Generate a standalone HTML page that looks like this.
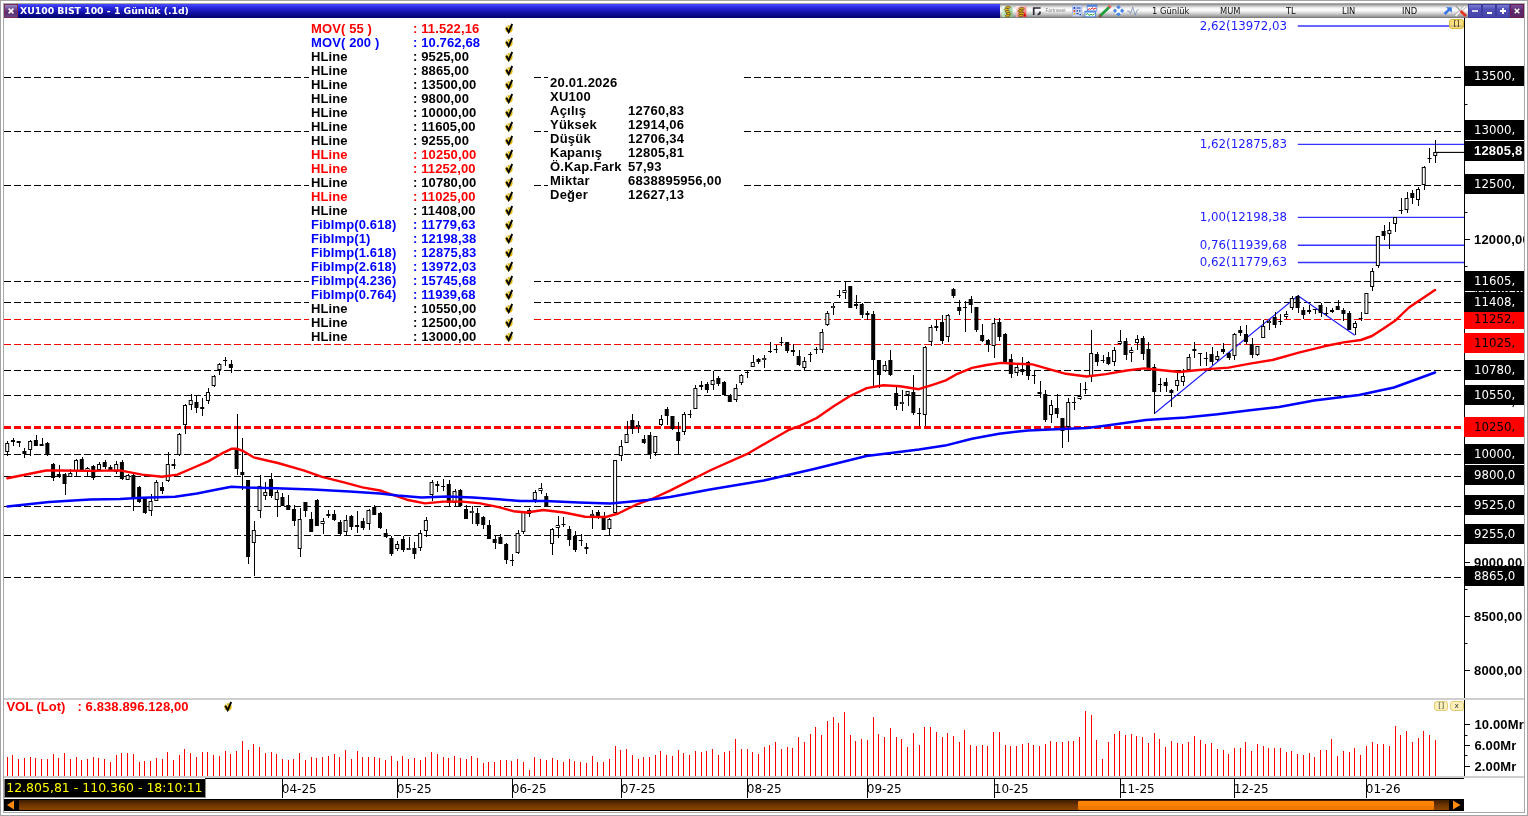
<!DOCTYPE html>
<html lang="tr">
<head>
<meta charset="utf-8">
<title>XU100 BIST 100 - 1 Günlük</title>
<style>
html,body{margin:0;padding:0;background:#fff;}
body{width:1528px;height:816px;position:relative;overflow:hidden;font-family:"Liberation Sans",sans-serif;}
.abs{position:absolute;}
#outer{position:absolute;left:0;top:0;width:1526px;height:814px;border:1px solid #a4a4a4;}
#inner{position:absolute;left:3px;top:3px;width:1520px;height:808px;border:1px solid #a8a8a8;box-sizing:content-box;}
/* title bar */
#tbar{position:absolute;left:4px;top:4px;width:1520px;height:14px;background:linear-gradient(#4a4aff 0%,#2a2ae0 25%,#1414b0 55%,#00006a 100%);}
#tclose{position:absolute;left:4px;top:4px;width:12px;height:12px;border:1px solid #7a2c55;background:linear-gradient(#9088c8 0%,#6a3a80 45%,#5c2c6c 60%,#644488 100%);}
#ttext{position:absolute;left:20px;top:4px;height:14px;line-height:14px;color:#fff;font-family:"DejaVu Sans",sans-serif;font-weight:bold;font-size:9.3px;white-space:nowrap;transform-origin:0 50%;}
#tool{position:absolute;left:1000px;top:4px;width:468px;height:14px;background:linear-gradient(#858585 0%,#b4b4b4 10%,#f2f2f2 28%,#ffffff 42%,#e6e6e6 58%,#b8b8b8 78%,#909090 92%,#707070 100%);}
.tt{position:absolute;top:4px;height:14px;line-height:14px;font-family:"DejaVu Sans",sans-serif;font-size:8.35px;color:#111;white-space:nowrap;}
.wb{position:absolute;top:4px;height:12px;width:12px;border:1px solid #3c3ca0;background:linear-gradient(#7c7cd0 0%,#5050b8 35%,#4444a8 100%);}
.wb.x{border-color:#6a1c50;background:linear-gradient(#7a4c98 0%,#5c2468 50%,#582868 100%);}
/* chart */
svg{position:absolute;left:0;top:0;}
#legend{position:absolute;left:309px;top:22px;width:225px;height:322px;background:#fff;}
.lr{position:absolute;left:0;height:14px;line-height:14px;font-weight:bold;font-size:13px;letter-spacing:0.12px;white-space:nowrap;width:226px;}
.lr .l1{position:absolute;left:2px;}
.lr .l2{position:absolute;left:104px;}
.ck{position:absolute;left:194.5px;top:0;width:10px;height:12px;}
.r{color:#ff0000;}.b{color:#0000ff;}.k{color:#000;}
#info{position:absolute;left:548px;top:76px;width:196px;height:128px;background:#fff;}
.ir{position:absolute;left:0;height:14px;line-height:14px;font-weight:bold;font-size:13px;letter-spacing:0.25px;white-space:nowrap;color:#000;}
.ir .i1{position:absolute;left:2px;}
.ir .i2{position:absolute;left:80px;}
.fib{position:absolute;left:1199.8px;height:14px;line-height:14px;font-family:"DejaVu Sans",sans-serif;font-size:11.8px;color:#1c1cff;white-space:nowrap;}
/* axis */
#paxis{position:absolute;left:1464px;top:0px;width:60px;height:812px;overflow:hidden;}
.pt{position:absolute;left:10px;height:16px;line-height:16px;font-weight:bold;font-size:13px;letter-spacing:0.2px;color:#000;white-space:nowrap;}
.pb{position:absolute;left:0;width:60px;height:20px;line-height:21.2px;font-family:"DejaVu Sans",sans-serif;font-size:11.75px;white-space:nowrap;text-indent:10px;}
.pb.k{background:#000;color:#fff;}
.pb.rd{background:#ff0000;color:#000;}
.pb.cur{font-family:"Liberation Sans",sans-serif;font-weight:bold;font-size:13px;letter-spacing:0.2px;height:20px;line-height:20px;text-indent:10px;}
.vt{position:absolute;left:1474.4px;height:16px;line-height:16px;font-weight:bold;font-size:13px;letter-spacing:0.15px;color:#000;white-space:nowrap;}
/* separators */
.hsep{position:absolute;left:4px;width:1520px;background:#cfcfcf;}
/* vol label */
#vlab{position:absolute;left:6.4px;top:699px;height:15px;line-height:15px;font-weight:bold;font-size:13px;color:#ff0000;white-space:nowrap;}
.yb{position:absolute;top:701px;height:10px;width:14.4px;border-radius:3px;background:#fdf0b8;border:1px solid #e2ca74;box-sizing:border-box;font-family:"DejaVu Sans",sans-serif;font-size:7.5px;line-height:8.6px;text-align:center;color:#444;}
/* time axis */
#status{position:absolute;left:4px;top:779px;width:201.6px;height:19px;background:#000;border-left:1px solid #808080;border-right:1px solid #909090;border-bottom:1px solid #909090;box-sizing:border-box;color:#ffff00;font-family:"DejaVu Sans",sans-serif;font-size:12.5px;line-height:17px;white-space:nowrap;text-indent:1.2px;}
.tk{position:absolute;top:778px;width:1px;height:20px;background:#000;}
.tm{position:absolute;top:781px;height:16px;line-height:16px;font-family:"DejaVu Sans",sans-serif;font-size:12px;color:#000;white-space:nowrap;}
#sbar{position:absolute;left:4px;top:799px;width:1460px;height:12px;background:#000;}
#strack{position:absolute;left:15px;top:1px;width:1430px;height:10px;background:linear-gradient(#3c1c00 0%,#6a3200 45%,#8a4600 100%);}
#sthumb{position:absolute;left:1073.8px;top:2px;width:356px;height:8.6px;border-radius:1px;background:linear-gradient(#ff8408 0%,#ff8000 55%,#ee7800 56%,#ee7800 100%);}
</style>
</head>
<body>
<div id="outer"></div>
<div id="inner"></div>

<svg width="1528" height="816" viewBox="0 0 1528 816">
<defs><g id="chk"><circle r="3.7" fill="#e4bc18"/><path d="M-2.2 -3.2L-0.6 -1.2" stroke="#fff" stroke-width="1.2" opacity="0.8"/><path d="M-2.7 -1.3L-0.3 3.1L3.2 -5" stroke="#000" stroke-width="1.9" fill="none"/></g></defs>
<g shape-rendering="auto">
<line x1="4" x2="1464" y1="77.5" y2="77.5" stroke="#000" stroke-width="1" stroke-dasharray="7 3"/>
<line x1="4" x2="1464" y1="131.5" y2="131.5" stroke="#000" stroke-width="1" stroke-dasharray="7 3"/>
<line x1="4" x2="1464" y1="185.5" y2="185.5" stroke="#000" stroke-width="1" stroke-dasharray="7 3"/>
<line x1="4" x2="1464" y1="281.5" y2="281.5" stroke="#000" stroke-width="1" stroke-dasharray="7 3"/>
<line x1="4" x2="1464" y1="302.5" y2="302.5" stroke="#000" stroke-width="1" stroke-dasharray="7 3"/>
<line x1="4" x2="1464" y1="370.5" y2="370.5" stroke="#000" stroke-width="1" stroke-dasharray="7 3"/>
<line x1="4" x2="1464" y1="395.5" y2="395.5" stroke="#000" stroke-width="1" stroke-dasharray="7 3"/>
<line x1="4" x2="1464" y1="454.5" y2="454.5" stroke="#000" stroke-width="1" stroke-dasharray="7 3"/>
<line x1="4" x2="1464" y1="476.5" y2="476.5" stroke="#000" stroke-width="1" stroke-dasharray="7 3"/>
<line x1="4" x2="1464" y1="506.5" y2="506.5" stroke="#000" stroke-width="1" stroke-dasharray="7 3"/>
<line x1="4" x2="1464" y1="535.5" y2="535.5" stroke="#000" stroke-width="1" stroke-dasharray="7 3"/>
<line x1="4" x2="1464" y1="577.5" y2="577.5" stroke="#000" stroke-width="1" stroke-dasharray="7 3"/>
<line x1="4" x2="1464" y1="319.5" y2="319.5" stroke="#f00" stroke-width="1" stroke-dasharray="7 3"/>
<line x1="4" x2="1464" y1="344.5" y2="344.5" stroke="#f00" stroke-width="1" stroke-dasharray="7 3"/>
<line x1="4" x2="1464" y1="427.5" y2="427.5" stroke="#f00" stroke-width="3" stroke-dasharray="7 3"/>
<line x1="1297.8" x2="1464" y1="26.0" y2="26.0" stroke="#3434ff" stroke-width="1.35"/>
<line x1="1297.8" x2="1464" y1="144.3" y2="144.3" stroke="#3434ff" stroke-width="1.35"/>
<line x1="1297.8" x2="1464" y1="217.3" y2="217.3" stroke="#3434ff" stroke-width="1.35"/>
<line x1="1297.8" x2="1464" y1="245.2" y2="245.2" stroke="#3434ff" stroke-width="1.35"/>
<line x1="1297.8" x2="1464" y1="262.5" y2="262.5" stroke="#3434ff" stroke-width="1.35"/>
<polyline points="1154.4,413.5 1298,295.7 1354.8,335.2" fill="none" stroke="#1c1cff" stroke-width="1.1"/>
<rect x="7" y="441" width="1" height="15" fill="#000"/>
<rect x="5.70" y="443.5" width="3" height="8" fill="#fff" stroke="#000" stroke-width="1"/>
<rect x="13" y="438" width="1" height="8" fill="#000"/>
<rect x="10.94" y="440" width="4" height="2" fill="#000"/>
<rect x="19" y="441" width="1" height="6" fill="#000"/>
<rect x="16.67" y="441" width="4" height="2" fill="#000"/>
<rect x="24" y="448" width="1" height="10" fill="#000"/>
<rect x="22.41" y="451" width="4" height="3" fill="#000"/>
<rect x="30" y="440" width="1" height="16" fill="#000"/>
<rect x="28.64" y="441.5" width="3" height="8" fill="#fff" stroke="#000" stroke-width="1"/>
<rect x="36" y="435" width="1" height="11" fill="#000"/>
<rect x="33.88" y="440" width="4" height="6" fill="#000"/>
<rect x="42" y="438" width="1" height="8" fill="#000"/>
<rect x="39.61" y="444" width="4" height="2" fill="#000"/>
<rect x="47" y="442" width="1" height="14" fill="#000"/>
<rect x="45.35" y="443" width="4" height="11" fill="#000"/>
<rect x="53" y="463" width="1" height="18" fill="#000"/>
<rect x="51.08" y="464" width="4" height="14" fill="#000"/>
<rect x="59" y="465" width="1" height="13" fill="#000"/>
<rect x="56.82" y="474" width="4" height="2" fill="#000"/>
<rect x="65" y="473" width="1" height="22" fill="#000"/>
<rect x="62.55" y="474" width="4" height="10" fill="#000"/>
<rect x="70" y="469" width="1" height="8" fill="#000"/>
<rect x="68.78" y="473.5" width="3" height="3" fill="#fff" stroke="#000" stroke-width="1"/>
<rect x="76" y="459" width="1" height="17" fill="#000"/>
<rect x="74.52" y="460.5" width="3" height="10" fill="#fff" stroke="#000" stroke-width="1"/>
<rect x="82" y="457" width="1" height="14" fill="#000"/>
<rect x="79.76" y="459" width="4" height="12" fill="#000"/>
<rect x="87" y="467" width="1" height="9" fill="#000"/>
<rect x="85.99" y="468.5" width="3" height="2" fill="#fff" stroke="#000" stroke-width="1"/>
<rect x="93" y="465" width="1" height="15" fill="#000"/>
<rect x="91.23" y="466" width="4" height="12" fill="#000"/>
<rect x="99" y="462" width="1" height="8" fill="#000"/>
<rect x="97.46" y="464.5" width="3" height="5" fill="#fff" stroke="#000" stroke-width="1"/>
<rect x="105" y="460" width="1" height="9" fill="#000"/>
<rect x="102.70" y="462" width="4" height="5" fill="#000"/>
<rect x="110" y="465" width="1" height="6" fill="#000"/>
<rect x="108.43" y="467" width="4" height="4" fill="#000"/>
<rect x="116" y="461" width="1" height="13" fill="#000"/>
<rect x="114.67" y="464.5" width="3" height="7" fill="#fff" stroke="#000" stroke-width="1"/>
<rect x="122" y="460" width="1" height="20" fill="#000"/>
<rect x="119.90" y="462" width="4" height="17" fill="#000"/>
<rect x="128" y="474" width="1" height="6" fill="#000"/>
<rect x="126.14" y="475.5" width="3" height="4" fill="#fff" stroke="#000" stroke-width="1"/>
<rect x="133" y="474" width="1" height="37" fill="#000"/>
<rect x="131.37" y="475" width="4" height="23" fill="#000"/>
<rect x="139" y="486" width="1" height="17" fill="#000"/>
<rect x="137.10" y="487" width="4" height="15" fill="#000"/>
<rect x="145" y="497" width="1" height="17" fill="#000"/>
<rect x="142.84" y="498" width="4" height="15" fill="#000"/>
<rect x="151" y="494" width="1" height="22" fill="#000"/>
<rect x="149.07" y="501.5" width="3" height="9" fill="#fff" stroke="#000" stroke-width="1"/>
<rect x="156" y="480" width="1" height="21" fill="#000"/>
<rect x="154.81" y="482.5" width="3" height="18" fill="#fff" stroke="#000" stroke-width="1"/>
<rect x="162" y="482" width="1" height="12" fill="#000"/>
<rect x="160.04" y="487" width="4" height="4" fill="#000"/>
<rect x="168" y="452" width="1" height="30" fill="#000"/>
<rect x="166.28" y="464.5" width="3" height="16" fill="#fff" stroke="#000" stroke-width="1"/>
<rect x="174" y="459" width="1" height="10" fill="#000"/>
<rect x="171.51" y="464" width="4" height="2" fill="#000"/>
<rect x="179" y="433" width="1" height="23" fill="#000"/>
<rect x="177.75" y="434.5" width="3" height="20" fill="#fff" stroke="#000" stroke-width="1"/>
<rect x="185" y="404" width="1" height="30" fill="#000"/>
<rect x="183.48" y="405.5" width="3" height="19" fill="#fff" stroke="#000" stroke-width="1"/>
<rect x="191" y="394" width="1" height="16" fill="#000"/>
<rect x="189.22" y="400.5" width="3" height="4" fill="#fff" stroke="#000" stroke-width="1"/>
<rect x="196" y="395" width="1" height="18" fill="#000"/>
<rect x="194.46" y="402" width="4" height="6" fill="#000"/>
<rect x="202" y="398" width="1" height="18" fill="#000"/>
<rect x="200.19" y="407" width="4" height="2" fill="#000"/>
<rect x="208" y="388" width="1" height="16" fill="#000"/>
<rect x="206.43" y="392.5" width="3" height="8" fill="#fff" stroke="#000" stroke-width="1"/>
<rect x="214" y="375" width="1" height="12" fill="#000"/>
<rect x="212.16" y="376.5" width="3" height="9" fill="#fff" stroke="#000" stroke-width="1"/>
<rect x="219" y="363" width="1" height="12" fill="#000"/>
<rect x="217.90" y="364.5" width="3" height="5" fill="#fff" stroke="#000" stroke-width="1"/>
<rect x="225" y="357" width="1" height="9" fill="#000"/>
<rect x="223.13" y="360" width="4" height="1" fill="#000"/>
<rect x="231" y="360" width="1" height="13" fill="#000"/>
<rect x="228.87" y="364" width="4" height="4" fill="#000"/>
<rect x="237" y="414" width="1" height="61" fill="#000"/>
<rect x="234.60" y="448" width="4" height="21" fill="#000"/>
<rect x="242" y="438" width="1" height="52" fill="#000"/>
<rect x="240.34" y="472" width="4" height="3" fill="#000"/>
<rect x="248" y="480" width="1" height="84" fill="#000"/>
<rect x="246.07" y="480" width="4" height="77" fill="#000"/>
<rect x="254" y="521" width="1" height="55" fill="#000"/>
<rect x="252.31" y="530.5" width="3" height="12" fill="#fff" stroke="#000" stroke-width="1"/>
<rect x="260" y="475" width="1" height="43" fill="#000"/>
<rect x="258.04" y="486.5" width="3" height="24" fill="#fff" stroke="#000" stroke-width="1"/>
<rect x="265" y="482" width="1" height="18" fill="#000"/>
<rect x="263.77" y="492.5" width="3" height="3" fill="#fff" stroke="#000" stroke-width="1"/>
<rect x="271" y="473" width="1" height="25" fill="#000"/>
<rect x="269.01" y="479" width="4" height="17" fill="#000"/>
<rect x="277" y="490" width="1" height="27" fill="#000"/>
<rect x="275.25" y="492.5" width="3" height="7" fill="#fff" stroke="#000" stroke-width="1"/>
<rect x="282" y="493" width="1" height="13" fill="#000"/>
<rect x="280.48" y="497" width="4" height="9" fill="#000"/>
<rect x="288" y="495" width="1" height="15" fill="#000"/>
<rect x="286.22" y="505" width="4" height="5" fill="#000"/>
<rect x="294" y="505" width="1" height="21" fill="#000"/>
<rect x="291.95" y="509" width="4" height="12" fill="#000"/>
<rect x="300" y="508" width="1" height="49" fill="#000"/>
<rect x="298.19" y="519.5" width="3" height="29" fill="#fff" stroke="#000" stroke-width="1"/>
<rect x="305" y="502" width="1" height="15" fill="#000"/>
<rect x="303.42" y="502" width="4" height="9" fill="#000"/>
<rect x="311" y="512" width="1" height="20" fill="#000"/>
<rect x="309.16" y="519" width="4" height="13" fill="#000"/>
<rect x="317" y="499" width="1" height="27" fill="#000"/>
<rect x="314.89" y="500" width="4" height="26" fill="#000"/>
<rect x="323" y="518" width="1" height="16" fill="#000"/>
<rect x="321.12" y="521.5" width="3" height="2" fill="#fff" stroke="#000" stroke-width="1"/>
<rect x="328" y="510" width="1" height="8" fill="#000"/>
<rect x="326.36" y="514" width="4" height="2" fill="#000"/>
<rect x="334" y="510" width="1" height="11" fill="#000"/>
<rect x="332.10" y="514" width="4" height="6" fill="#000"/>
<rect x="340" y="520" width="1" height="15" fill="#000"/>
<rect x="337.83" y="522" width="4" height="12" fill="#000"/>
<rect x="346" y="515" width="1" height="20" fill="#000"/>
<rect x="344.06" y="520.5" width="3" height="11" fill="#fff" stroke="#000" stroke-width="1"/>
<rect x="351" y="515" width="1" height="15" fill="#000"/>
<rect x="349.30" y="516" width="4" height="11" fill="#000"/>
<rect x="357" y="511" width="1" height="22" fill="#000"/>
<rect x="355.04" y="525" width="4" height="2" fill="#000"/>
<rect x="363" y="518" width="1" height="12" fill="#000"/>
<rect x="360.77" y="521" width="4" height="7" fill="#000"/>
<rect x="369" y="509" width="1" height="21" fill="#000"/>
<rect x="367.00" y="510.5" width="3" height="13" fill="#fff" stroke="#000" stroke-width="1"/>
<rect x="374" y="505" width="1" height="10" fill="#000"/>
<rect x="372.24" y="507" width="4" height="8" fill="#000"/>
<rect x="380" y="512" width="1" height="17" fill="#000"/>
<rect x="377.98" y="513" width="4" height="15" fill="#000"/>
<rect x="386" y="529" width="1" height="9" fill="#000"/>
<rect x="383.71" y="533" width="4" height="4" fill="#000"/>
<rect x="391" y="536" width="1" height="20" fill="#000"/>
<rect x="389.44" y="538" width="4" height="16" fill="#000"/>
<rect x="397" y="541" width="1" height="10" fill="#000"/>
<rect x="395.68" y="544.5" width="3" height="4" fill="#fff" stroke="#000" stroke-width="1"/>
<rect x="403" y="536" width="1" height="16" fill="#000"/>
<rect x="400.92" y="539" width="4" height="11" fill="#000"/>
<rect x="409" y="537" width="1" height="13" fill="#000"/>
<rect x="406.65" y="548" width="4" height="2" fill="#000"/><rect x="407.65" y="548.75" width="2" height="0.5" fill="#fff"/>
<rect x="414" y="542" width="1" height="17" fill="#000"/>
<rect x="412.38" y="548" width="4" height="6" fill="#000"/>
<rect x="420" y="530" width="1" height="21" fill="#000"/>
<rect x="418.62" y="533.5" width="3" height="14" fill="#fff" stroke="#000" stroke-width="1"/>
<rect x="426" y="517" width="1" height="20" fill="#000"/>
<rect x="424.36" y="520.5" width="3" height="10" fill="#fff" stroke="#000" stroke-width="1"/>
<rect x="432" y="480" width="1" height="21" fill="#000"/>
<rect x="430.09" y="482.5" width="3" height="12" fill="#fff" stroke="#000" stroke-width="1"/>
<rect x="437" y="481" width="1" height="11" fill="#000"/>
<rect x="435.32" y="484" width="4" height="2" fill="#000"/>
<rect x="443" y="479" width="1" height="12" fill="#000"/>
<rect x="441.06" y="486" width="4" height="1" fill="#000"/>
<rect x="449" y="480" width="1" height="26" fill="#000"/>
<rect x="446.80" y="484" width="4" height="19" fill="#000"/>
<rect x="455" y="489" width="1" height="17" fill="#000"/>
<rect x="453.03" y="491.5" width="3" height="11" fill="#fff" stroke="#000" stroke-width="1"/>
<rect x="460" y="489" width="1" height="17" fill="#000"/>
<rect x="458.26" y="490" width="4" height="16" fill="#000"/>
<rect x="466" y="505" width="1" height="14" fill="#000"/>
<rect x="464.00" y="509" width="4" height="10" fill="#000"/>
<rect x="472" y="506" width="1" height="18" fill="#000"/>
<rect x="469.74" y="511" width="4" height="2" fill="#000"/><rect x="470.74" y="511.75" width="2" height="0.5" fill="#fff"/>
<rect x="477" y="508" width="1" height="18" fill="#000"/>
<rect x="475.47" y="513" width="4" height="11" fill="#000"/>
<rect x="483" y="516" width="1" height="13" fill="#000"/>
<rect x="481.21" y="517" width="4" height="8" fill="#000"/>
<rect x="489" y="520" width="1" height="19" fill="#000"/>
<rect x="486.94" y="525" width="4" height="14" fill="#000"/>
<rect x="495" y="536" width="1" height="13" fill="#000"/>
<rect x="492.68" y="539" width="4" height="4" fill="#000"/>
<rect x="500" y="534" width="1" height="10" fill="#000"/>
<rect x="498.41" y="537" width="4" height="7" fill="#000"/>
<rect x="506" y="543" width="1" height="21" fill="#000"/>
<rect x="504.15" y="544" width="4" height="16" fill="#000"/>
<rect x="512" y="554" width="1" height="12" fill="#000"/>
<rect x="509.88" y="560" width="4" height="1" fill="#000"/>
<rect x="518" y="530" width="1" height="24" fill="#000"/>
<rect x="516.12" y="533.5" width="3" height="19" fill="#fff" stroke="#000" stroke-width="1"/>
<rect x="523" y="512" width="1" height="22" fill="#000"/>
<rect x="521.85" y="512.5" width="3" height="19" fill="#fff" stroke="#000" stroke-width="1"/>
<rect x="529" y="508" width="1" height="9" fill="#000"/>
<rect x="527.59" y="510.5" width="3" height="3" fill="#fff" stroke="#000" stroke-width="1"/>
<rect x="535" y="490" width="1" height="13" fill="#000"/>
<rect x="533.32" y="492.5" width="3" height="7" fill="#fff" stroke="#000" stroke-width="1"/>
<rect x="541" y="483" width="1" height="11" fill="#000"/>
<rect x="539.06" y="488.5" width="3" height="2" fill="#fff" stroke="#000" stroke-width="1"/>
<rect x="546" y="493" width="1" height="14" fill="#000"/>
<rect x="544.29" y="496" width="4" height="10" fill="#000"/>
<rect x="552" y="528" width="1" height="27" fill="#000"/>
<rect x="550.53" y="529.5" width="3" height="14" fill="#fff" stroke="#000" stroke-width="1"/>
<rect x="558" y="516" width="1" height="22" fill="#000"/>
<rect x="556.26" y="525.5" width="3" height="2" fill="#fff" stroke="#000" stroke-width="1"/>
<rect x="563" y="517" width="1" height="10" fill="#000"/>
<rect x="561.50" y="524" width="4" height="1" fill="#000"/>
<rect x="569" y="526" width="1" height="20" fill="#000"/>
<rect x="567.23" y="529" width="4" height="11" fill="#000"/>
<rect x="575" y="531" width="1" height="21" fill="#000"/>
<rect x="572.97" y="536" width="4" height="14" fill="#000"/>
<rect x="581" y="534" width="1" height="12" fill="#000"/>
<rect x="578.70" y="540" width="4" height="1" fill="#000"/>
<rect x="586" y="543" width="1" height="11" fill="#000"/>
<rect x="584.44" y="547" width="4" height="2" fill="#000"/>
<rect x="592" y="510" width="1" height="19" fill="#000"/>
<rect x="590.17" y="514" width="4" height="2" fill="#000"/><rect x="591.17" y="514.75" width="2" height="0.5" fill="#fff"/>
<rect x="598" y="510" width="1" height="9" fill="#000"/>
<rect x="595.91" y="512" width="4" height="4" fill="#000"/>
<rect x="604" y="512" width="1" height="18" fill="#000"/>
<rect x="601.64" y="517" width="4" height="13" fill="#000"/>
<rect x="609" y="518" width="1" height="18" fill="#000"/>
<rect x="607.88" y="519.5" width="3" height="9" fill="#fff" stroke="#000" stroke-width="1"/>
<rect x="615" y="460" width="1" height="54" fill="#000"/>
<rect x="613.61" y="460.5" width="3" height="52" fill="#fff" stroke="#000" stroke-width="1"/>
<rect x="621" y="440" width="1" height="21" fill="#000"/>
<rect x="619.35" y="446.5" width="3" height="9" fill="#fff" stroke="#000" stroke-width="1"/>
<rect x="627" y="421" width="1" height="22" fill="#000"/>
<rect x="625.08" y="434.5" width="3" height="8" fill="#fff" stroke="#000" stroke-width="1"/>
<rect x="632" y="414" width="1" height="20" fill="#000"/>
<rect x="630.32" y="420" width="4" height="9" fill="#000"/>
<rect x="638" y="421" width="1" height="12" fill="#000"/>
<rect x="636.05" y="425" width="4" height="2" fill="#000"/><rect x="637.05" y="425.75" width="2" height="0.5" fill="#fff"/>
<rect x="644" y="435" width="1" height="9" fill="#000"/>
<rect x="641.79" y="439" width="4" height="4" fill="#000"/>
<rect x="650" y="432" width="1" height="27" fill="#000"/>
<rect x="647.52" y="435" width="4" height="19" fill="#000"/>
<rect x="655" y="436" width="1" height="20" fill="#000"/>
<rect x="653.76" y="436.5" width="3" height="16" fill="#fff" stroke="#000" stroke-width="1"/>
<rect x="661" y="415" width="1" height="11" fill="#000"/>
<rect x="659.49" y="419.5" width="3" height="5" fill="#fff" stroke="#000" stroke-width="1"/>
<rect x="667" y="407" width="1" height="18" fill="#000"/>
<rect x="664.73" y="409" width="4" height="7" fill="#000"/>
<rect x="672" y="416" width="1" height="14" fill="#000"/>
<rect x="670.46" y="416" width="4" height="13" fill="#000"/>
<rect x="678" y="422" width="1" height="33" fill="#000"/>
<rect x="676.20" y="432" width="4" height="9" fill="#000"/>
<rect x="684" y="412" width="1" height="23" fill="#000"/>
<rect x="682.43" y="414.5" width="3" height="17" fill="#fff" stroke="#000" stroke-width="1"/>
<rect x="690" y="410" width="1" height="8" fill="#000"/>
<rect x="687.67" y="414" width="4" height="1" fill="#000"/>
<rect x="695" y="385" width="1" height="24" fill="#000"/>
<rect x="693.90" y="388.5" width="3" height="20" fill="#fff" stroke="#000" stroke-width="1"/>
<rect x="701" y="381" width="1" height="9" fill="#000"/>
<rect x="699.14" y="385" width="4" height="2" fill="#000"/>
<rect x="707" y="382" width="1" height="11" fill="#000"/>
<rect x="704.87" y="384" width="4" height="6" fill="#000"/>
<rect x="713" y="371" width="1" height="19" fill="#000"/>
<rect x="711.11" y="380.5" width="3" height="4" fill="#fff" stroke="#000" stroke-width="1"/>
<rect x="718" y="376" width="1" height="10" fill="#000"/>
<rect x="716.34" y="378" width="4" height="6" fill="#000"/>
<rect x="724" y="381" width="1" height="15" fill="#000"/>
<rect x="722.08" y="382" width="4" height="13" fill="#000"/>
<rect x="730" y="394" width="1" height="8" fill="#000"/>
<rect x="727.81" y="395" width="4" height="7" fill="#000"/>
<rect x="736" y="384" width="1" height="18" fill="#000"/>
<rect x="734.05" y="388.5" width="3" height="11" fill="#fff" stroke="#000" stroke-width="1"/>
<rect x="741" y="374" width="1" height="11" fill="#000"/>
<rect x="739.78" y="375.5" width="3" height="7" fill="#fff" stroke="#000" stroke-width="1"/>
<rect x="747" y="370" width="1" height="8" fill="#000"/>
<rect x="745.02" y="372" width="4" height="1" fill="#000"/>
<rect x="753" y="355" width="1" height="12" fill="#000"/>
<rect x="751.25" y="362.5" width="3" height="4" fill="#fff" stroke="#000" stroke-width="1"/>
<rect x="758" y="358" width="1" height="6" fill="#000"/>
<rect x="756.49" y="359" width="4" height="3" fill="#000"/>
<rect x="764" y="355" width="1" height="13" fill="#000"/>
<rect x="762.22" y="358" width="4" height="2" fill="#000"/><rect x="763.22" y="358.75" width="2" height="0.5" fill="#fff"/>
<rect x="770" y="342" width="1" height="11" fill="#000"/>
<rect x="767.96" y="351" width="4" height="1" fill="#000"/>
<rect x="776" y="345" width="1" height="8" fill="#000"/>
<rect x="773.69" y="349" width="4" height="1" fill="#000"/>
<rect x="781" y="337" width="1" height="9" fill="#000"/>
<rect x="779.43" y="342" width="4" height="1" fill="#000"/>
<rect x="787" y="342" width="1" height="11" fill="#000"/>
<rect x="785.16" y="342" width="4" height="9" fill="#000"/>
<rect x="793" y="344" width="1" height="12" fill="#000"/>
<rect x="790.90" y="350" width="4" height="2" fill="#000"/>
<rect x="799" y="350" width="1" height="16" fill="#000"/>
<rect x="796.63" y="356" width="4" height="9" fill="#000"/>
<rect x="804" y="357" width="1" height="13" fill="#000"/>
<rect x="802.87" y="361.5" width="3" height="6" fill="#fff" stroke="#000" stroke-width="1"/>
<rect x="810" y="352" width="1" height="10" fill="#000"/>
<rect x="808.10" y="354" width="4" height="1" fill="#000"/>
<rect x="816" y="347" width="1" height="7" fill="#000"/>
<rect x="813.84" y="349" width="4" height="1" fill="#000"/>
<rect x="822" y="329" width="1" height="24" fill="#000"/>
<rect x="820.07" y="332.5" width="3" height="17" fill="#fff" stroke="#000" stroke-width="1"/>
<rect x="827" y="311" width="1" height="15" fill="#000"/>
<rect x="825.81" y="313.5" width="3" height="11" fill="#fff" stroke="#000" stroke-width="1"/>
<rect x="833" y="303" width="1" height="12" fill="#000"/>
<rect x="831.04" y="306" width="4" height="2" fill="#000"/><rect x="832.04" y="306.75" width="2" height="0.5" fill="#fff"/>
<rect x="839" y="290" width="1" height="8" fill="#000"/>
<rect x="836.78" y="295" width="4" height="1" fill="#000"/>
<rect x="845" y="282" width="1" height="17" fill="#000"/>
<rect x="843.01" y="290.5" width="3" height="2" fill="#fff" stroke="#000" stroke-width="1"/>
<rect x="850" y="286" width="1" height="22" fill="#000"/>
<rect x="848.25" y="286" width="4" height="22" fill="#000"/>
<rect x="856" y="295" width="1" height="14" fill="#000"/>
<rect x="853.98" y="304" width="4" height="2" fill="#000"/>
<rect x="862" y="303" width="1" height="15" fill="#000"/>
<rect x="859.72" y="304" width="4" height="11" fill="#000"/>
<rect x="867" y="311" width="1" height="9" fill="#000"/>
<rect x="865.45" y="313" width="4" height="2" fill="#000"/>
<rect x="873" y="311" width="1" height="76" fill="#000"/>
<rect x="871.19" y="314" width="4" height="46" fill="#000"/>
<rect x="879" y="360" width="1" height="28" fill="#000"/>
<rect x="876.92" y="360" width="4" height="15" fill="#000"/>
<rect x="885" y="361" width="1" height="11" fill="#000"/>
<rect x="883.16" y="365.5" width="3" height="5" fill="#fff" stroke="#000" stroke-width="1"/>
<rect x="890" y="350" width="1" height="26" fill="#000"/>
<rect x="888.39" y="360" width="4" height="15" fill="#000"/>
<rect x="896" y="387" width="1" height="23" fill="#000"/>
<rect x="894.13" y="393" width="4" height="13" fill="#000"/>
<rect x="902" y="390" width="1" height="21" fill="#000"/>
<rect x="899.86" y="402" width="4" height="2" fill="#000"/><rect x="900.86" y="402.75" width="2" height="0.5" fill="#fff"/>
<rect x="908" y="391" width="1" height="15" fill="#000"/>
<rect x="906.10" y="391.5" width="3" height="3" fill="#fff" stroke="#000" stroke-width="1"/>
<rect x="913" y="375" width="1" height="40" fill="#000"/>
<rect x="911.33" y="392" width="4" height="21" fill="#000"/>
<rect x="919" y="408" width="1" height="18" fill="#000"/>
<rect x="917.07" y="413" width="4" height="1" fill="#000"/>
<rect x="925" y="346" width="1" height="80" fill="#000"/>
<rect x="923.30" y="347.5" width="3" height="67" fill="#fff" stroke="#000" stroke-width="1"/>
<rect x="931" y="325" width="1" height="21" fill="#000"/>
<rect x="929.04" y="327.5" width="3" height="14" fill="#fff" stroke="#000" stroke-width="1"/>
<rect x="936" y="320" width="1" height="11" fill="#000"/>
<rect x="934.27" y="326" width="4" height="2" fill="#000"/>
<rect x="942" y="315" width="1" height="29" fill="#000"/>
<rect x="940.01" y="322" width="4" height="19" fill="#000"/>
<rect x="948" y="314" width="1" height="28" fill="#000"/>
<rect x="946.24" y="315.5" width="3" height="21" fill="#fff" stroke="#000" stroke-width="1"/>
<rect x="953" y="288" width="1" height="10" fill="#000"/>
<rect x="951.48" y="289" width="4" height="7" fill="#000"/>
<rect x="959" y="300" width="1" height="15" fill="#000"/>
<rect x="957.21" y="307" width="4" height="4" fill="#000"/>
<rect x="965" y="301" width="1" height="31" fill="#000"/>
<rect x="962.95" y="307" width="4" height="1" fill="#000"/>
<rect x="971" y="296" width="1" height="17" fill="#000"/>
<rect x="968.68" y="299" width="4" height="6" fill="#000"/>
<rect x="976" y="307" width="1" height="25" fill="#000"/>
<rect x="974.42" y="307" width="4" height="23" fill="#000"/>
<rect x="982" y="324" width="1" height="18" fill="#000"/>
<rect x="980.15" y="335" width="4" height="6" fill="#000"/>
<rect x="988" y="339" width="1" height="13" fill="#000"/>
<rect x="985.89" y="340" width="4" height="5" fill="#000"/>
<rect x="994" y="318" width="1" height="40" fill="#000"/>
<rect x="992.12" y="323.5" width="3" height="22" fill="#fff" stroke="#000" stroke-width="1"/>
<rect x="999" y="318" width="1" height="23" fill="#000"/>
<rect x="997.36" y="322" width="4" height="15" fill="#000"/>
<rect x="1005" y="333" width="1" height="30" fill="#000"/>
<rect x="1003.09" y="334" width="4" height="28" fill="#000"/>
<rect x="1011" y="354" width="1" height="24" fill="#000"/>
<rect x="1008.83" y="359" width="4" height="15" fill="#000"/>
<rect x="1017" y="363" width="1" height="13" fill="#000"/>
<rect x="1015.06" y="367.5" width="3" height="5" fill="#fff" stroke="#000" stroke-width="1"/>
<rect x="1022" y="357" width="1" height="18" fill="#000"/>
<rect x="1020.30" y="369" width="4" height="3" fill="#000"/>
<rect x="1028" y="361" width="1" height="19" fill="#000"/>
<rect x="1026.03" y="362" width="4" height="14" fill="#000"/>
<rect x="1034" y="370" width="1" height="14" fill="#000"/>
<rect x="1031.77" y="375" width="4" height="1" fill="#000"/>
<rect x="1040" y="381" width="1" height="17" fill="#000"/>
<rect x="1037.50" y="392" width="4" height="2" fill="#000"/>
<rect x="1045" y="390" width="1" height="32" fill="#000"/>
<rect x="1043.24" y="394" width="4" height="26" fill="#000"/>
<rect x="1051" y="400" width="1" height="23" fill="#000"/>
<rect x="1049.47" y="405.5" width="3" height="9" fill="#fff" stroke="#000" stroke-width="1"/>
<rect x="1057" y="394" width="1" height="24" fill="#000"/>
<rect x="1054.71" y="408" width="4" height="6" fill="#000"/>
<rect x="1062" y="418" width="1" height="30" fill="#000"/>
<rect x="1060.44" y="418" width="4" height="13" fill="#000"/>
<rect x="1068" y="398" width="1" height="44" fill="#000"/>
<rect x="1066.68" y="402.5" width="3" height="24" fill="#fff" stroke="#000" stroke-width="1"/>
<rect x="1074" y="397" width="1" height="13" fill="#000"/>
<rect x="1071.91" y="402" width="4" height="1" fill="#000"/>
<rect x="1080" y="383" width="1" height="17" fill="#000"/>
<rect x="1078.15" y="396.5" width="3" height="2" fill="#fff" stroke="#000" stroke-width="1"/>
<rect x="1085" y="382" width="1" height="12" fill="#000"/>
<rect x="1083.38" y="389" width="4" height="1" fill="#000"/>
<rect x="1091" y="330" width="1" height="52" fill="#000"/>
<rect x="1089.62" y="353.5" width="3" height="23" fill="#fff" stroke="#000" stroke-width="1"/>
<rect x="1097" y="352" width="1" height="14" fill="#000"/>
<rect x="1094.85" y="354" width="4" height="8" fill="#000"/>
<rect x="1103" y="355" width="1" height="8" fill="#000"/>
<rect x="1100.59" y="360" width="4" height="1" fill="#000"/>
<rect x="1108" y="352" width="1" height="13" fill="#000"/>
<rect x="1106.32" y="357" width="4" height="7" fill="#000"/>
<rect x="1114" y="347" width="1" height="19" fill="#000"/>
<rect x="1112.56" y="350.5" width="3" height="11" fill="#fff" stroke="#000" stroke-width="1"/>
<rect x="1120" y="330" width="1" height="15" fill="#000"/>
<rect x="1118.29" y="341.5" width="3" height="2" fill="#fff" stroke="#000" stroke-width="1"/>
<rect x="1126" y="338" width="1" height="22" fill="#000"/>
<rect x="1123.53" y="341" width="4" height="14" fill="#000"/>
<rect x="1131" y="347" width="1" height="15" fill="#000"/>
<rect x="1129.76" y="350.5" width="3" height="2" fill="#fff" stroke="#000" stroke-width="1"/>
<rect x="1137" y="335" width="1" height="15" fill="#000"/>
<rect x="1135.50" y="339.5" width="3" height="3" fill="#fff" stroke="#000" stroke-width="1"/>
<rect x="1143" y="336" width="1" height="24" fill="#000"/>
<rect x="1140.73" y="338" width="4" height="16" fill="#000"/>
<rect x="1148" y="342" width="1" height="26" fill="#000"/>
<rect x="1146.47" y="349" width="4" height="19" fill="#000"/>
<rect x="1154" y="364" width="1" height="50" fill="#000"/>
<rect x="1152.20" y="367" width="4" height="25" fill="#000"/>
<rect x="1160" y="378" width="1" height="14" fill="#000"/>
<rect x="1157.94" y="384" width="4" height="1" fill="#000"/>
<rect x="1166" y="378" width="1" height="14" fill="#000"/>
<rect x="1163.67" y="382" width="4" height="4" fill="#000"/>
<rect x="1171" y="389" width="1" height="18" fill="#000"/>
<rect x="1169.41" y="390" width="4" height="3" fill="#000"/>
<rect x="1177" y="372" width="1" height="19" fill="#000"/>
<rect x="1175.64" y="380.5" width="3" height="5" fill="#fff" stroke="#000" stroke-width="1"/>
<rect x="1183" y="369" width="1" height="17" fill="#000"/>
<rect x="1181.38" y="376.5" width="3" height="5" fill="#fff" stroke="#000" stroke-width="1"/>
<rect x="1189" y="354" width="1" height="17" fill="#000"/>
<rect x="1187.11" y="357.5" width="3" height="12" fill="#fff" stroke="#000" stroke-width="1"/>
<rect x="1194" y="342" width="1" height="16" fill="#000"/>
<rect x="1192.35" y="349" width="4" height="2" fill="#000"/>
<rect x="1200" y="353" width="1" height="13" fill="#000"/>
<rect x="1198.08" y="353" width="4" height="1" fill="#000"/>
<rect x="1206" y="352" width="1" height="14" fill="#000"/>
<rect x="1203.82" y="358" width="4" height="1" fill="#000"/>
<rect x="1212" y="347" width="1" height="18" fill="#000"/>
<rect x="1209.55" y="354" width="4" height="8" fill="#000"/>
<rect x="1217" y="351" width="1" height="10" fill="#000"/>
<rect x="1215.79" y="356.5" width="3" height="3" fill="#fff" stroke="#000" stroke-width="1"/>
<rect x="1223" y="343" width="1" height="11" fill="#000"/>
<rect x="1221.02" y="349" width="4" height="3" fill="#000"/>
<rect x="1229" y="352" width="1" height="8" fill="#000"/>
<rect x="1226.76" y="353" width="4" height="5" fill="#000"/>
<rect x="1234" y="333" width="1" height="27" fill="#000"/>
<rect x="1232.99" y="334.5" width="3" height="21" fill="#fff" stroke="#000" stroke-width="1"/>
<rect x="1240" y="326" width="1" height="10" fill="#000"/>
<rect x="1238.23" y="330" width="4" height="3" fill="#000"/>
<rect x="1246" y="325" width="1" height="19" fill="#000"/>
<rect x="1243.96" y="334" width="4" height="8" fill="#000"/>
<rect x="1252" y="338" width="1" height="20" fill="#000"/>
<rect x="1249.70" y="344" width="4" height="11" fill="#000"/>
<rect x="1257" y="346" width="1" height="10" fill="#000"/>
<rect x="1255.93" y="346.5" width="3" height="8" fill="#fff" stroke="#000" stroke-width="1"/>
<rect x="1263" y="320" width="1" height="18" fill="#000"/>
<rect x="1261.67" y="326.5" width="3" height="11" fill="#fff" stroke="#000" stroke-width="1"/>
<rect x="1269" y="320" width="1" height="10" fill="#000"/>
<rect x="1266.90" y="321" width="4" height="2" fill="#000"/><rect x="1267.90" y="321.75" width="2" height="0.5" fill="#fff"/>
<rect x="1275" y="312" width="1" height="16" fill="#000"/>
<rect x="1272.64" y="317" width="4" height="8" fill="#000"/>
<rect x="1280" y="314" width="1" height="11" fill="#000"/>
<rect x="1278.37" y="321" width="4" height="1" fill="#000"/>
<rect x="1286" y="311" width="1" height="8" fill="#000"/>
<rect x="1284.61" y="314.5" width="3" height="2" fill="#fff" stroke="#000" stroke-width="1"/>
<rect x="1292" y="296" width="1" height="14" fill="#000"/>
<rect x="1290.34" y="298.5" width="3" height="9" fill="#fff" stroke="#000" stroke-width="1"/>
<rect x="1298" y="295" width="1" height="18" fill="#000"/>
<rect x="1295.58" y="296" width="4" height="12" fill="#000"/>
<rect x="1303" y="307" width="1" height="12" fill="#000"/>
<rect x="1301.31" y="310" width="4" height="5" fill="#000"/>
<rect x="1309" y="305" width="1" height="9" fill="#000"/>
<rect x="1307.05" y="310" width="4" height="2" fill="#000"/>
<rect x="1315" y="309" width="1" height="5" fill="#000"/>
<rect x="1312.78" y="309" width="4" height="1" fill="#000"/>
<rect x="1321" y="303" width="1" height="14" fill="#000"/>
<rect x="1318.52" y="305" width="4" height="8" fill="#000"/>
<rect x="1326" y="307" width="1" height="9" fill="#000"/>
<rect x="1324.25" y="313" width="4" height="1" fill="#000"/>
<rect x="1332" y="308" width="1" height="5" fill="#000"/>
<rect x="1329.99" y="310" width="4" height="2" fill="#000"/>
<rect x="1338" y="300" width="1" height="10" fill="#000"/>
<rect x="1335.72" y="306" width="4" height="4" fill="#000"/>
<rect x="1343" y="308" width="1" height="13" fill="#000"/>
<rect x="1341.46" y="310" width="4" height="4" fill="#000"/>
<rect x="1349" y="311" width="1" height="19" fill="#000"/>
<rect x="1347.19" y="313" width="4" height="17" fill="#000"/>
<rect x="1355" y="321" width="1" height="14" fill="#000"/>
<rect x="1353.43" y="323.5" width="3" height="4" fill="#fff" stroke="#000" stroke-width="1"/>
<rect x="1361" y="312" width="1" height="9" fill="#000"/>
<rect x="1358.66" y="318" width="4" height="1" fill="#000"/>
<rect x="1366" y="293" width="1" height="21" fill="#000"/>
<rect x="1364.90" y="293.5" width="3" height="20" fill="#fff" stroke="#000" stroke-width="1"/>
<rect x="1372" y="268" width="1" height="23" fill="#000"/>
<rect x="1370.63" y="271.5" width="3" height="15" fill="#fff" stroke="#000" stroke-width="1"/>
<rect x="1378" y="236" width="1" height="32" fill="#000"/>
<rect x="1376.37" y="236.5" width="3" height="29" fill="#fff" stroke="#000" stroke-width="1"/>
<rect x="1384" y="225" width="1" height="15" fill="#000"/>
<rect x="1381.60" y="231" width="4" height="5" fill="#000"/>
<rect x="1389" y="222" width="1" height="27" fill="#000"/>
<rect x="1387.84" y="230.5" width="3" height="3" fill="#fff" stroke="#000" stroke-width="1"/>
<rect x="1395" y="217" width="1" height="15" fill="#000"/>
<rect x="1393.57" y="217.5" width="3" height="6" fill="#fff" stroke="#000" stroke-width="1"/>
<rect x="1401" y="198" width="1" height="16" fill="#000"/>
<rect x="1398.81" y="210" width="4" height="1" fill="#000"/>
<rect x="1407" y="192" width="1" height="21" fill="#000"/>
<rect x="1405.04" y="198.5" width="3" height="11" fill="#fff" stroke="#000" stroke-width="1"/>
<rect x="1412" y="190" width="1" height="14" fill="#000"/>
<rect x="1410.28" y="193" width="4" height="5" fill="#000"/>
<rect x="1418" y="187" width="1" height="19" fill="#000"/>
<rect x="1416.51" y="189.5" width="3" height="10" fill="#fff" stroke="#000" stroke-width="1"/>
<rect x="1424" y="166" width="1" height="24" fill="#000"/>
<rect x="1422.25" y="167.5" width="3" height="17" fill="#fff" stroke="#000" stroke-width="1"/>
<rect x="1429" y="148" width="1" height="15" fill="#000"/>
<rect x="1427.48" y="158" width="4" height="1" fill="#000"/>
<rect x="1435" y="140" width="1" height="23" fill="#000"/>
<rect x="1433.72" y="152.5" width="3" height="3" fill="#fff" stroke="#000" stroke-width="1"/>
<line x1="1436" x2="1464" y1="152.4" y2="152.4" stroke="#000" stroke-width="1.1"/>
<polyline points="7.4,478.2 46.0,470.5 60.0,470.5 90.0,470.9 120.0,470.4 142.0,474.6 162.0,476.8 177.4,474.6 192.8,468.0 208.2,461.4 221.5,453.7 231.4,448.8 237.0,448.8 243.5,451.2 253.5,457.3 277.8,463.0 303.5,470.3 322.0,476.8 344.0,482.3 362.4,487.4 380.0,490.5 388.4,493.3 406.8,499.7 425.0,503.4 443.5,501.6 462.0,501.6 480.3,503.4 498.7,507.1 513.4,511.2 526.7,512.5 543.3,510.0 564.0,512.5 585.0,516.7 605.8,517.0 618.3,513.5 635.0,505.2 651.7,499.0 670.0,490.6 711.0,470.0 746.7,454.2 788.3,430.2 800.0,425.8 816.7,418.0 833.3,406.5 850.0,396.0 866.7,388.1 883.3,385.2 900.0,386.3 918.8,389.2 933.3,384.6 945.8,380.4 957.5,373.8 972.0,367.9 986.7,365.0 1001.0,362.9 1015.8,363.8 1032.5,364.4 1049.0,369.2 1065.8,373.8 1086.7,376.5 1106.0,374.1 1126.7,370.5 1144.2,368.4 1160.0,370.0 1179.2,372.0 1193.6,370.5 1211.0,368.9 1228.6,367.6 1250.0,363.6 1272.5,360.0 1298.7,352.7 1324.2,346.3 1343.4,342.4 1360.9,340.0 1372.0,336.0 1383.2,328.8 1395.0,320.8 1409.0,307.5 1435.0,290.0" fill="none" stroke="#ff0000" stroke-width="2.4" stroke-linejoin="round" stroke-linecap="round"/>
<polyline points="7.4,506.4 49.0,501.9 90.0,499.5 120.0,498.9 142.0,497.8 175.0,496.7 197.0,493.4 217.0,489.4 231.4,486.8 245.7,487.6 276.0,488.2 312.7,489.6 349.5,491.5 380.0,493.5 397.6,495.5 421.5,497.4 447.2,496.6 473.0,497.4 498.7,499.2 520.0,501.0 545.4,501.0 578.8,502.5 610.0,503.5 626.7,502.1 647.5,500.0 670.0,496.9 710.0,489.5 764.0,480.5 814.0,469.0 866.5,456.0 919.0,449.5 945.0,445.6 972.0,438.8 999.0,433.8 1028.0,430.4 1061.7,429.0 1086.7,428.0 1105.0,425.8 1145.8,420.0 1185.6,417.5 1217.5,414.3 1250.0,410.3 1279.0,407.0 1314.0,400.5 1359.0,395.0 1394.0,387.5 1435.0,372.5" fill="none" stroke="#0000ff" stroke-width="2.5" stroke-linejoin="round" stroke-linecap="round"/>
</g>
<path d="M7.5 776V757M12.5 776V755M18.5 776V759M24.5 776V758M30.5 776V757M35.5 776V758M41.5 776V759M47.5 776V759M53.5 776V754M58.5 776V758M64.5 776V753M70.5 776V759M76.5 776V757M81.5 776V760M87.5 776V759M93.5 776V757M98.5 776V758M104.5 776V759M110.5 776V762M116.5 776V755M121.5 776V753M127.5 776V753M133.5 776V754M139.5 776V762M144.5 776V761M150.5 776V761M156.5 776V758M162.5 776V759M167.5 776V752M173.5 776V760M179.5 776V755M184.5 776V749M190.5 776V753M196.5 776V757M202.5 776V752M207.5 776V752M213.5 776V755M219.5 776V756M225.5 776V751M230.5 776V754M236.5 776V751M242.5 776V741M248.5 776V750M253.5 776V744M259.5 776V747M265.5 776V753M271.5 776V752M276.5 776V754M282.5 776V759M288.5 776V760M293.5 776V759M299.5 776V753M305.5 776V760M311.5 776V757M316.5 776V758M322.5 776V757M328.5 776V756M334.5 776V754M339.5 776V757M345.5 776V750M351.5 776V759M357.5 776V751M362.5 776V757M368.5 776V757M374.5 776V757M379.5 776V758M385.5 776V760M391.5 776V756M397.5 776V761M402.5 776V756M408.5 776V759M414.5 776V758M420.5 776V760M425.5 776V757M431.5 776V752M437.5 776V754M443.5 776V757M448.5 776V758M454.5 776V756M460.5 776V758M466.5 776V759M471.5 776V756M477.5 776V758M483.5 776V763M488.5 776V762M494.5 776V762M500.5 776V760M506.5 776V760M511.5 776V761M517.5 776V759M523.5 776V762M529.5 776V770M534.5 776V757M540.5 776V759M546.5 776V760M552.5 776V758M557.5 776V760M563.5 776V762M569.5 776V759M574.5 776V761M580.5 776V762M586.5 776V763M592.5 776V756M597.5 776V762M603.5 776V762M609.5 776V759M615.5 776V746M620.5 776V750M626.5 776V749M632.5 776V755M638.5 776V759M643.5 776V757M649.5 776V757M655.5 776V755M660.5 776V751M666.5 776V755M672.5 776V756M678.5 776V750M683.5 776V753M689.5 776V755M695.5 776V751M701.5 776V752M706.5 776V751M712.5 776V749M718.5 776V755M724.5 776V752M729.5 776V751M735.5 776V739M741.5 776V749M747.5 776V749M752.5 776V752M758.5 776V754M764.5 776V747M769.5 776V745M775.5 776V742M781.5 776V749M787.5 776V747M792.5 776V748M798.5 776V737M804.5 776V742M810.5 776V734M815.5 776V727M821.5 776V735M827.5 776V721M833.5 776V717M838.5 776V723M844.5 776V712M850.5 776V735M855.5 776V741M861.5 776V739M867.5 776V740M873.5 776V717M878.5 776V734M884.5 776V737M890.5 776V728M896.5 776V737M901.5 776V739M907.5 776V747M913.5 776V733M919.5 776V745M924.5 776V727M930.5 776V727M936.5 776V732M942.5 776V737M947.5 776V733M953.5 776V736M959.5 776V742M964.5 776V730M970.5 776V745M976.5 776V746M982.5 776V745M987.5 776V746M993.5 776V732M999.5 776V732M1005.5 776V745M1010.5 776V746M1016.5 776V746M1022.5 776V744M1028.5 776V743M1033.5 776V745M1039.5 776V746M1045.5 776V744M1050.5 776V741M1056.5 776V742M1062.5 776V742M1068.5 776V741M1073.5 776V741M1079.5 776V737M1085.5 776V711M1091.5 776V715M1096.5 776V740M1102.5 776V759M1108.5 776V742M1114.5 776V734M1119.5 776V731M1125.5 776V735M1131.5 776V734M1136.5 776V736M1142.5 776V737M1148.5 776V743M1154.5 776V733M1159.5 776V739M1165.5 776V747M1171.5 776V741M1177.5 776V743M1182.5 776V744M1188.5 776V742M1194.5 776V736M1200.5 776V740M1205.5 776V744M1211.5 776V743M1217.5 776V749M1223.5 776V750M1228.5 776V754M1234.5 776V748M1240.5 776V748M1245.5 776V742M1251.5 776V751M1257.5 776V744M1263.5 776V746M1268.5 776V748M1274.5 776V748M1280.5 776V748M1286.5 776V752M1291.5 776V751M1297.5 776V754M1303.5 776V755M1309.5 776V753M1314.5 776V757M1320.5 776V750M1326.5 776V750M1331.5 776V739M1337.5 776V756M1343.5 776V751M1349.5 776V752M1354.5 776V748M1360.5 776V755M1366.5 776V746M1372.5 776V742M1377.5 776V744M1383.5 776V744M1389.5 776V746M1395.5 776V726M1400.5 776V735M1406.5 776V731M1412.5 776V742M1418.5 776V738M1423.5 776V731M1429.5 776V735M1435.5 776V740" stroke="#ff0000" stroke-width="1" fill="none"/>
<line x1="1464.5" x2="1464.5" y1="18" y2="778" stroke="#000" stroke-width="1"/>
<line x1="1464" x2="1470" y1="670.5" y2="670.5" stroke="#000" stroke-width="1"/>
<line x1="1464" x2="1467.5" y1="643.5" y2="643.5" stroke="#000" stroke-width="1"/>
<line x1="1464" x2="1470" y1="616.5" y2="616.5" stroke="#000" stroke-width="1"/>
<line x1="1464" x2="1467.5" y1="589.5" y2="589.5" stroke="#000" stroke-width="1"/>
<line x1="1464" x2="1470" y1="562.5" y2="562.5" stroke="#000" stroke-width="1"/>
<line x1="1464" x2="1467.5" y1="535.5" y2="535.5" stroke="#000" stroke-width="1"/>
<line x1="1464" x2="1470" y1="508.5" y2="508.5" stroke="#000" stroke-width="1"/>
<line x1="1464" x2="1467.5" y1="481.5" y2="481.5" stroke="#000" stroke-width="1"/>
<line x1="1464" x2="1470" y1="454.5" y2="454.5" stroke="#000" stroke-width="1"/>
<line x1="1464" x2="1467.5" y1="427.5" y2="427.5" stroke="#000" stroke-width="1"/>
<line x1="1464" x2="1470" y1="400.5" y2="400.5" stroke="#000" stroke-width="1"/>
<line x1="1464" x2="1467.5" y1="373.5" y2="373.5" stroke="#000" stroke-width="1"/>
<line x1="1464" x2="1470" y1="346.5" y2="346.5" stroke="#000" stroke-width="1"/>
<line x1="1464" x2="1467.5" y1="320.5" y2="320.5" stroke="#000" stroke-width="1"/>
<line x1="1464" x2="1470" y1="293.5" y2="293.5" stroke="#000" stroke-width="1"/>
<line x1="1464" x2="1467.5" y1="266.5" y2="266.5" stroke="#000" stroke-width="1"/>
<line x1="1464" x2="1470" y1="239.5" y2="239.5" stroke="#000" stroke-width="1"/>
<line x1="1464" x2="1467.5" y1="212.5" y2="212.5" stroke="#000" stroke-width="1"/>
<line x1="1464" x2="1470" y1="185.5" y2="185.5" stroke="#000" stroke-width="1"/>
<line x1="1464" x2="1467.5" y1="158.5" y2="158.5" stroke="#000" stroke-width="1"/>
<line x1="1464" x2="1470" y1="131.5" y2="131.5" stroke="#000" stroke-width="1"/>
<line x1="1464" x2="1467.5" y1="104.5" y2="104.5" stroke="#000" stroke-width="1"/>
<line x1="1464" x2="1470" y1="766.5" y2="766.5" stroke="#000" stroke-width="1"/>
<line x1="1464" x2="1467.5" y1="755.5" y2="755.5" stroke="#000" stroke-width="1"/>
<line x1="1464" x2="1470" y1="745.5" y2="745.5" stroke="#000" stroke-width="1"/>
<line x1="1464" x2="1467.5" y1="735.5" y2="735.5" stroke="#000" stroke-width="1"/>
<line x1="1464" x2="1470" y1="724.5" y2="724.5" stroke="#000" stroke-width="1"/>
</svg>

<div id="legend">
<div class="lr r" style="top:0px"><span class="l1">MOV( 55 )</span><span class="l2">: 11.522,16</span><svg class="ck" viewBox="-5 -7 10 12"><use href="#chk"/></svg></div>
<div class="lr b" style="top:14px"><span class="l1">MOV( 200 )</span><span class="l2">: 10.762,68</span><svg class="ck" viewBox="-5 -7 10 12"><use href="#chk"/></svg></div>
<div class="lr k" style="top:28px"><span class="l1">HLine</span><span class="l2">: 9525,00</span><svg class="ck" viewBox="-5 -7 10 12"><use href="#chk"/></svg></div>
<div class="lr k" style="top:42px"><span class="l1">HLine</span><span class="l2">: 8865,00</span><svg class="ck" viewBox="-5 -7 10 12"><use href="#chk"/></svg></div>
<div class="lr k" style="top:56px"><span class="l1">HLine</span><span class="l2">: 13500,00</span><svg class="ck" viewBox="-5 -7 10 12"><use href="#chk"/></svg></div>
<div class="lr k" style="top:70px"><span class="l1">HLine</span><span class="l2">: 9800,00</span><svg class="ck" viewBox="-5 -7 10 12"><use href="#chk"/></svg></div>
<div class="lr k" style="top:84px"><span class="l1">HLine</span><span class="l2">: 10000,00</span><svg class="ck" viewBox="-5 -7 10 12"><use href="#chk"/></svg></div>
<div class="lr k" style="top:98px"><span class="l1">HLine</span><span class="l2">: 11605,00</span><svg class="ck" viewBox="-5 -7 10 12"><use href="#chk"/></svg></div>
<div class="lr k" style="top:112px"><span class="l1">HLine</span><span class="l2">: 9255,00</span><svg class="ck" viewBox="-5 -7 10 12"><use href="#chk"/></svg></div>
<div class="lr r" style="top:126px"><span class="l1">HLine</span><span class="l2">: 10250,00</span><svg class="ck" viewBox="-5 -7 10 12"><use href="#chk"/></svg></div>
<div class="lr r" style="top:140px"><span class="l1">HLine</span><span class="l2">: 11252,00</span><svg class="ck" viewBox="-5 -7 10 12"><use href="#chk"/></svg></div>
<div class="lr k" style="top:154px"><span class="l1">HLine</span><span class="l2">: 10780,00</span><svg class="ck" viewBox="-5 -7 10 12"><use href="#chk"/></svg></div>
<div class="lr r" style="top:168px"><span class="l1">HLine</span><span class="l2">: 11025,00</span><svg class="ck" viewBox="-5 -7 10 12"><use href="#chk"/></svg></div>
<div class="lr k" style="top:182px"><span class="l1">HLine</span><span class="l2">: 11408,00</span><svg class="ck" viewBox="-5 -7 10 12"><use href="#chk"/></svg></div>
<div class="lr b" style="top:196px"><span class="l1">FibImp(0.618)</span><span class="l2">: 11779,63</span><svg class="ck" viewBox="-5 -7 10 12"><use href="#chk"/></svg></div>
<div class="lr b" style="top:210px"><span class="l1">FibImp(1)</span><span class="l2">: 12198,38</span><svg class="ck" viewBox="-5 -7 10 12"><use href="#chk"/></svg></div>
<div class="lr b" style="top:224px"><span class="l1">FibImp(1.618)</span><span class="l2">: 12875,83</span><svg class="ck" viewBox="-5 -7 10 12"><use href="#chk"/></svg></div>
<div class="lr b" style="top:238px"><span class="l1">FibImp(2.618)</span><span class="l2">: 13972,03</span><svg class="ck" viewBox="-5 -7 10 12"><use href="#chk"/></svg></div>
<div class="lr b" style="top:252px"><span class="l1">FibImp(4.236)</span><span class="l2">: 15745,68</span><svg class="ck" viewBox="-5 -7 10 12"><use href="#chk"/></svg></div>
<div class="lr b" style="top:266px"><span class="l1">FibImp(0.764)</span><span class="l2">: 11939,68</span><svg class="ck" viewBox="-5 -7 10 12"><use href="#chk"/></svg></div>
<div class="lr k" style="top:280px"><span class="l1">HLine</span><span class="l2">: 10550,00</span><svg class="ck" viewBox="-5 -7 10 12"><use href="#chk"/></svg></div>
<div class="lr k" style="top:294px"><span class="l1">HLine</span><span class="l2">: 12500,00</span><svg class="ck" viewBox="-5 -7 10 12"><use href="#chk"/></svg></div>
<div class="lr k" style="top:308px"><span class="l1">HLine</span><span class="l2">: 13000,00</span><svg class="ck" viewBox="-5 -7 10 12"><use href="#chk"/></svg></div>
</div>
<div id="info">
<div class="ir" style="top:0px"><span class="i1">20.01.2026</span><span class="i2"></span></div>
<div class="ir" style="top:14px"><span class="i1">XU100</span><span class="i2"></span></div>
<div class="ir" style="top:28px"><span class="i1">Açılış</span><span class="i2">12760,83</span></div>
<div class="ir" style="top:42px"><span class="i1">Yüksek</span><span class="i2">12914,06</span></div>
<div class="ir" style="top:56px"><span class="i1">Düşük</span><span class="i2">12706,34</span></div>
<div class="ir" style="top:70px"><span class="i1">Kapanış</span><span class="i2">12805,81</span></div>
<div class="ir" style="top:84px"><span class="i1">Ö.Kap.Fark</span><span class="i2">57,93</span></div>
<div class="ir" style="top:98px"><span class="i1">Miktar</span><span class="i2">6838895956,00</span></div>
<div class="ir" style="top:112px"><span class="i1">Değer</span><span class="i2">12627,13</span></div>
</div>
<div class="fib" style="top:18.6px">2,62(13972,03</div>
<div class="fib" style="top:136.9px">1,62(12875,83</div>
<div class="fib" style="top:209.9px">1,00(12198,38</div>
<div class="fib" style="top:237.8px">0,76(11939,68</div>
<div class="fib" style="top:255.1px">0,62(11779,63</div>

<div id="paxis">
<div class="pt" style="top:231.5px">12000,00</div>
<div class="pt" style="top:285.5px">11500,00</div>
<div class="pt" style="top:338.5px">11000,00</div>
<div class="pt" style="top:392.5px">10500,00</div>
<div class="pt" style="top:500.5px">9500,00</div>
<div class="pt" style="top:554.5px">9000,00</div>
<div class="pt" style="top:608.5px">8500,00</div>
<div class="pt" style="top:662.5px">8000,00</div>
<div class="pb k" style="top:495px">9525,0</div>
<div class="pb k" style="top:566px">8865,0</div>
<div class="pb k" style="top:66px">13500,</div>
<div class="pb k" style="top:465px">9800,0</div>
<div class="pb k" style="top:444px">10000,</div>
<div class="pb k" style="top:271px">11605,</div>
<div class="pb k" style="top:524px">9255,0</div>
<div class="pb rd" style="top:417px">10250,</div>
<div class="pb rd" style="top:309px">11252,</div>
<div class="pb k" style="top:360px">10780,</div>
<div class="pb rd" style="top:333px">11025,</div>
<div class="pb k" style="top:292px">11408,</div>
<div class="pb k" style="top:385px">10550,</div>
<div class="pb k" style="top:174px">12500,</div>
<div class="pb k" style="top:120px">13000,</div>
<div class="pb k cur" style="top:141px">12805,8</div>
</div>

<!-- separators -->
<div class="hsep" style="top:698px;height:2px;"></div>
<div class="hsep" style="top:776px;height:2px;"></div>
<div class="abs" style="left:205px;top:778px;width:1259px;height:1px;background:#000;"></div>

<div id="vlab"><span>VOL (Lot)</span><span style="position:absolute;left:71px;letter-spacing:0.12px;">: 6.838.896.128,00</span></div>
<svg class="ck" viewBox="-5 -7 10 12" style="left:222.5px;top:700.3px;"><use href="#chk"/></svg>
<div class="yb" style="left:1434.1px;">[]</div>
<div class="yb" style="left:1449.5px;">x</div>
<div class="yb" style="left:1449.2px;top:19px;background:rgba(248,216,96,0.8);border-color:#dcb838;color:#111;">[]</div>
<div class="vt" style="top:716.8px;">10.00Mr</div>
<div class="vt" style="top:738px;">6.00Mr</div>
<div class="vt" style="top:758.8px;">2.00Mr</div>

<div id="status">12.805,81 - 110.360 - 18:10:11</div>
<div class="tk" style="left:282px"></div><div class="tm" style="left:281.8px">04-25</div>
<div class="tk" style="left:397px"></div><div class="tm" style="left:396.8px">05-25</div>
<div class="tk" style="left:512px"></div><div class="tm" style="left:511.8px">06-25</div>
<div class="tk" style="left:621px"></div><div class="tm" style="left:620.8px">07-25</div>
<div class="tk" style="left:747px"></div><div class="tm" style="left:746.8px">08-25</div>
<div class="tk" style="left:867px"></div><div class="tm" style="left:866.8px">09-25</div>
<div class="tk" style="left:994px"></div><div class="tm" style="left:993.8px">10-25</div>
<div class="tk" style="left:1120px"></div><div class="tm" style="left:1119.8px">11-25</div>
<div class="tk" style="left:1234px"></div><div class="tm" style="left:1233.8px">12-25</div>
<div class="tk" style="left:1366px"></div><div class="tm" style="left:1365.8px">01-26</div>
<div id="sbar"><div id="strack"></div><div id="sthumb"></div>
<svg width="1460" height="12" viewBox="0 0 1460 12" style="left:0;top:0;"><path d="M3 6L10 1.5V10.5Z" fill="#ff8a10"/><path d="M1456.5 6L1449 1.5V10.5Z" fill="#ff8a10"/></svg>
</div>

<!-- title bar -->
<div id="tbar"></div>
<div id="tclose"></div>
<svg width="20" height="20" style="left:4px;top:4px;"><path d="M4.6 4.6L9.4 9.4M9.4 4.6L4.6 9.4" stroke="#fff" stroke-width="1.6"/></svg>
<div id="ttext">XU100 BIST 100 - 1 Günlük (.1d)</div>
<div id="tool"></div>
<svg width="470" height="16" viewBox="1000 3 470 16" style="left:1000px;top:3px;">
<defs>
<linearGradient id="gg" x1="0" y1="0" x2="1" y2="1"><stop offset="0" stop-color="#f4fff4"/><stop offset="1" stop-color="#78c078"/></linearGradient>
<linearGradient id="rg" x1="0" y1="0" x2="1" y2="1"><stop offset="0" stop-color="#fff0f0"/><stop offset="1" stop-color="#f05050"/></linearGradient>
</defs>
<rect x="1002" y="6" width="10.6" height="11" fill="url(#gg)"/>
<g stroke="#3a2800" stroke-width="0.5" fill="#e8b820"><ellipse cx="1008" cy="7.3" rx="2.6" ry="1.1"/><ellipse cx="1006.6" cy="9.5" rx="2.2" ry="1.1"/><ellipse cx="1007.6" cy="11.7" rx="2.3" ry="1.1"/><ellipse cx="1008.6" cy="13.8" rx="2.3" ry="1.1"/><ellipse cx="1007.6" cy="15.8" rx="2.4" ry="1.1"/></g>
<rect x="1016.2" y="6" width="10.2" height="11" fill="url(#rg)"/>
<g stroke="#3a2800" stroke-width="0.5" fill="#d8a818"><ellipse cx="1021.6" cy="8.6" rx="2.6" ry="1.2"/><ellipse cx="1020.6" cy="11" rx="2.8" ry="1.2"/><ellipse cx="1021.4" cy="13.4" rx="2.8" ry="1.2"/><ellipse cx="1020.8" cy="15.6" rx="2.6" ry="1.1"/></g>
<path d="M1024.6 12.5L1026.2 16.6H1023.6Z" fill="#e00000"/>
<path d="M1033.7 14.9V8H1040.6M1040 11.4V12.6Q1040 14.4 1037.6 14.4" fill="none" stroke="#2a2a36" stroke-width="1.7"/>
<rect x="1072.3" y="5.4" width="9.6" height="10.8" fill="#c4d2f4" stroke="#9cb0e0" stroke-width="0.6"/>
<circle cx="1074.4" cy="8" r="1" fill="#2030c0"/><circle cx="1074.4" cy="10.9" r="1" fill="#e04030"/><circle cx="1074.4" cy="13.7" r="1" fill="#e8c020"/>
<path d="M1076.5 8H1080.5M1076.5 10.9H1078M1079 10.9H1080.5M1076.5 13.7H1078.5M1079.5 14.6H1081" stroke="#2848b0" stroke-width="1.2"/>
<rect x="1087.2" y="5" width="9.7" height="6" fill="#fff" stroke="#4a80e0" stroke-width="0.8"/><rect x="1087.2" y="5" width="9.7" height="1.8" fill="#4a80e0"/>
<path d="M1087.6 10L1089.5 8.6L1090.6 9.4L1092.4 7.6L1093.6 9.6L1095 8L1096.4 8.6" fill="none" stroke="#e02020" stroke-width="1"/>
<rect x="1085" y="11.2" width="10.4" height="5.6" fill="#fff" stroke="#4a80e0" stroke-width="0.9"/><rect x="1085" y="11" width="10.4" height="1.6" fill="#5a8ce8"/>
<path d="M1086 14.6L1087.6 13.6L1089 15.4L1091 14.4L1092.6 15.2L1094.6 13.8" fill="none" stroke="#20a030" stroke-width="1"/>
<path d="M1100.6 15.4L1109.6 6.8" stroke="#22a040" stroke-width="2.8"/><path d="M1109 7.4L1110.6 5.8" stroke="#e86060" stroke-width="3"/><path d="M1099 17L1099.6 14.4L1101.6 16.4Z" fill="#e07030" stroke="#201008" stroke-width="0.4"/>
<path d="M1118.5 4.9L1124.3 10.7L1118.5 16.5L1112.8 10.7Z" fill="#4a86e4"/><path d="M1115.4 7.6L1121.6 13.8M1121.6 7.6L1115.4 13.8" stroke="#fff" stroke-width="1.5"/><circle cx="1118.5" cy="10.7" r="2" fill="#fff"/>
<path d="M1127.2 11.2H1129.4L1130.5 13.7L1132.7 7L1135.2 15.4L1137 10.4L1138.6 9.4" fill="none" stroke="#8494b8" stroke-width="0.9"/>
<path d="M1444.6 14L1449.4 9.4" stroke="#3474e4" stroke-width="2.6"/><path d="M1446 7.2H1451.8V12.8Z" fill="#3474e4"/>
<path d="M1455.6 15.9L1465 6.4" stroke="#f4f4f4" stroke-width="2.2"/><path d="M1455.6 15.9L1465 6.4" stroke="#8a8a8a" stroke-width="0.6" fill="none" transform="translate(-0.9,-0.9)"/><path d="M1455.6 15.9L1465 6.4" stroke="#8a8a8a" stroke-width="0.6" fill="none" transform="translate(0.9,0.9)"/>
<path d="M1455.6 5.6L1460.4 10.8" stroke="#9a9a9a" stroke-width="1.2"/><path d="M1460.6 11L1466 16" stroke="#e43424" stroke-width="3"/>
</svg>
<div class="abs" style="left:1045.6px;top:7px;height:8px;line-height:8px;font-size:4.6px;color:#7c7c7c;font-family:'Liberation Sans',sans-serif;letter-spacing:0.1px;">Fortnvest</div>
<div class="tt" style="left:1152px;">1 Günlük</div>
<div class="tt" style="left:1220px;">MUM</div>
<div class="tt" style="left:1286px;">TL</div>
<div class="tt" style="left:1342px;">LIN</div>
<div class="tt" style="left:1402px;">IND</div>
<div class="wb" style="left:1468px;"></div>
<div class="wb" style="left:1482px;"></div>
<div class="wb" style="left:1496px;"></div>
<div class="wb x" style="left:1510px;"></div>
<svg width="60" height="16" style="left:1468px;top:4px;"><path d="M4 7H10" stroke="#fff" stroke-width="1.6"/><path d="M19 9H24" stroke="#fff" stroke-width="2"/><path d="M32 7H38M35 4V10" stroke="#fff" stroke-width="1.8"/><path d="M46.7 4.7L51.3 9.3M51.3 4.7L46.7 9.3" stroke="#fff" stroke-width="1.5"/></svg>
</body>
</html>
